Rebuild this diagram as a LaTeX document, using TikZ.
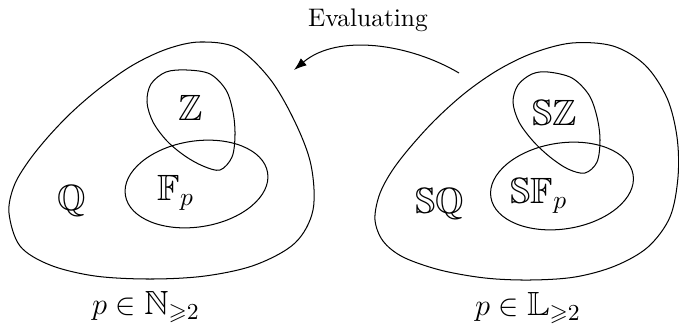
\documentclass[tikz,border=0pt]{standalone}
\usepackage{amssymb}
\usetikzlibrary{arrows.meta}
\begin{document}
\begin{tikzpicture}[x=0.3937pt,y=-0.3937pt,
  region/.style={draw, line width=0.4pt},
  setlabel/.style={font=\Large, inner sep=0pt},
  caption/.style={font=\fontsize{13.2}{16}\selectfont, inner sep=0pt},
  connector/.style={draw, line width=0.4pt, -{Latex[length=5pt,width=3.6pt]}}]
\useasboundingbox (0,0) rectangle (679,325);
% left outer region
\draw[region] plot[smooth cycle, tension=0.55] coordinates {
 (9,213) (14,186) (28,162) (48,137) (72,112) (100,88) (133,65) (167,49)
 (200,42) (237,48) (270,79) (295,122) (311,165) (313,210) (295,243)
 (255,265) (205,276) (150,279) (95,276) (50,265) (20,246)};
% left Z region
\draw[region] plot[smooth cycle, tension=0.55] coordinates {
 (187,70) (210,74) (226,90) (233,112) (235,135) (232,157) (220,170) (203,166)
 (185,156) (167,141) (153,122) (147,102) (151,84) (166,72)};
% left F_p ellipse
\draw[region] (196.5,184) circle[x radius=28.35pt, y radius=16.9pt, rotate=9];
% right outer region
\draw[region] plot[smooth cycle, tension=0.55] coordinates {
 (375,220) (379,196) (390,174) (407,151) (434,121) (465,93) (498,70) (533,53)
 (572,43) (613,46) (645,65) (667,98) (677,137) (678,177) (670,217) (648,247)
 (615,266) (575,277) (530,280) (485,278) (440,270) (403,257) (383,241)};
% right SZ region
\draw[region] plot[smooth cycle, tension=0.55] coordinates {
 (548,72) (572,78) (589,95) (597,117) (600,140) (597,162) (585,173) (568,169)
 (550,157) (533,141) (519,122) (513,102) (518,85) (532,74)};
% right SF_p ellipse
\draw[region] (562,186) circle[x radius=28.35pt, y radius=16.9pt, rotate=9];
% labels
\node[setlabel] (Z) at (191,108) {$\mathbb{Z}$};
\node[setlabel] (Q) at (72,201) {$\mathbb{Q}$};
\node[setlabel] (Fp) at (176,193) {$\mathbb{F}_p$};
\node[setlabel] (SZ) at (555,113) {$\mathbb{S}\mathbb{Z}$};
\node[setlabel] (SQ) at (440,204) {$\mathbb{S}\mathbb{Q}$};
\node[setlabel] (SFp) at (539,196) {$\mathbb{S}\mathbb{F}_p$};
\node[caption] (capL) at (146,307) {$p\in\mathbb{N}_{\geqslant 2}$};
\node[caption] (capR) at (528,308) {$p\in\mathbb{L}_{\geqslant 2}$};
\node[inner sep=0pt] (eval) at (368,20) {Evaluating};
% connector
\coordinate (from) at (459,73);
\coordinate (to) at (294,70);
\draw[connector] (from) .. controls (410,44) and (338,33) .. (to);
\end{tikzpicture}
\end{document}
